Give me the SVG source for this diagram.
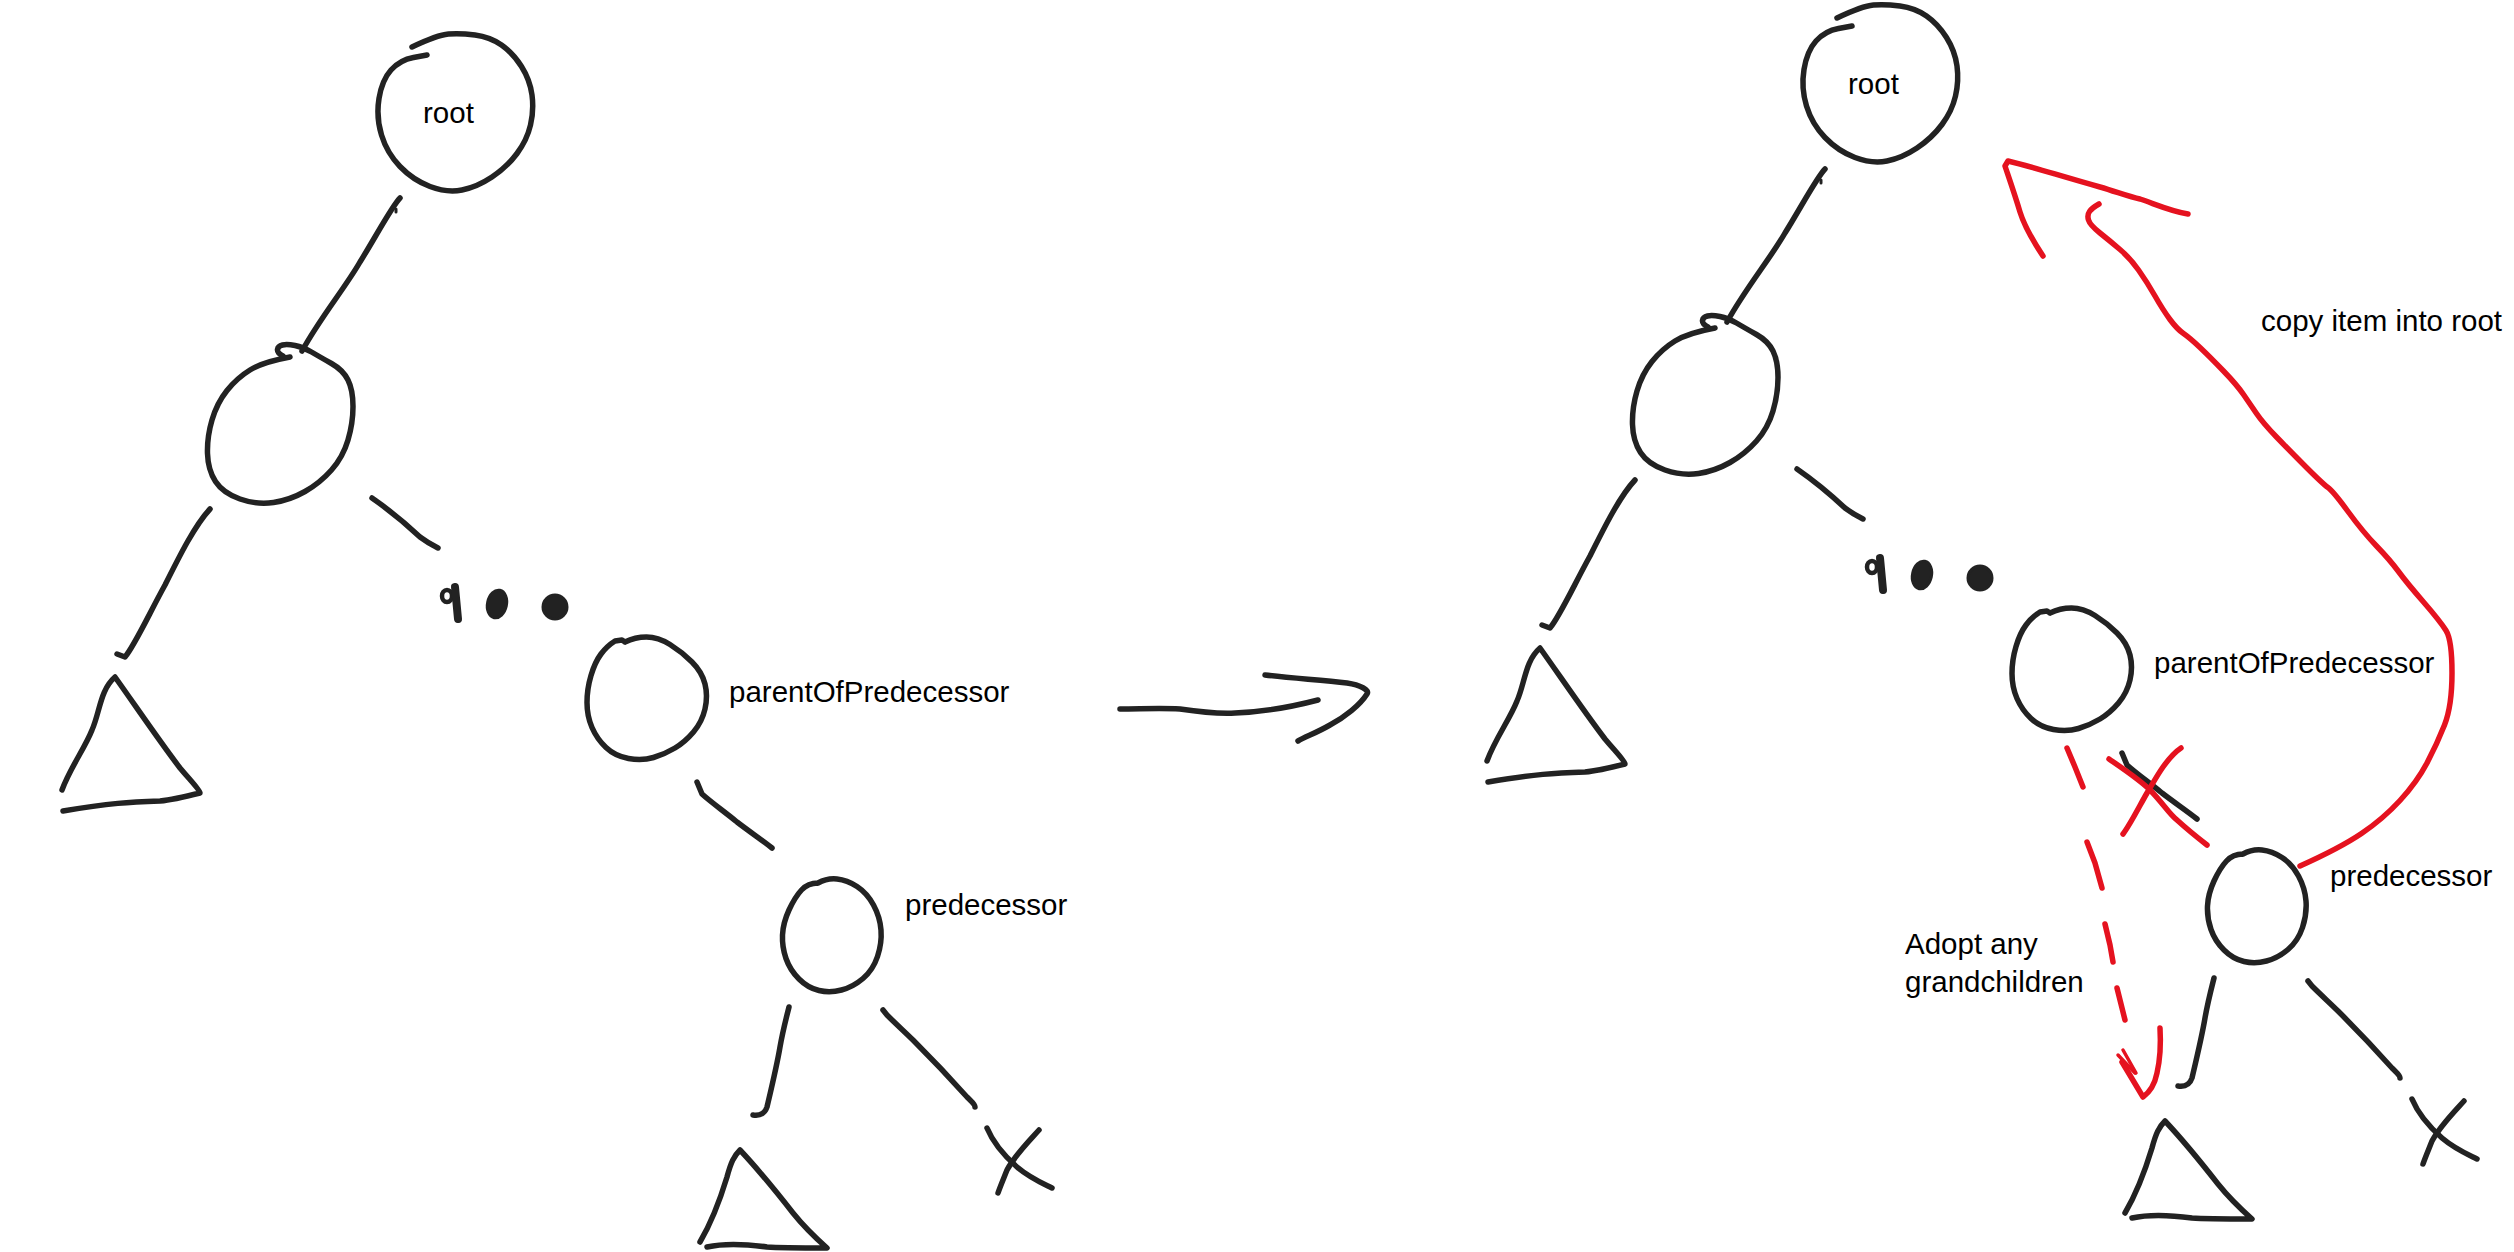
<svg xmlns="http://www.w3.org/2000/svg" width="2514" height="1252" viewBox="0 0 2514 1252">
<style>
.ink{fill:none;stroke:#222;stroke-width:5.5;stroke-linecap:round;stroke-linejoin:round}
.blob{fill:#222;stroke:#222;stroke-width:3}
.red{fill:none;stroke:#e5121f;stroke-width:5.5;stroke-linecap:round;stroke-linejoin:round}
.lbl{font-family:"Liberation Sans",Arial,sans-serif;font-size:29.5px;fill:#000}
</style>
<rect width="2514" height="1252" fill="#fff"/>

<!-- LEFT TREE -->
<g id="left-tree">
  <g id="L-root">
    <path class="ink" d="M412,47 Q437,35 448.5,34 Q460,33 475,35 Q490,37 501.5,45 Q513,53 521.5,66.5 Q530,80 532,95 Q534,110 530.5,125 Q527,140 517,153.5 Q507,167 492,177 Q477,187 462,190 Q447,193 430,186.5 Q413,180 400,166.5 Q387,153 381.5,135 Q376,117 379,98.5 Q382,80 391,70 Q400,60 413.5,57.5 L427,55"/>
    <text class="lbl" x="423" y="123">root</text>
  </g>
  <g id="L-child">
    <path class="ink" d="M290,357 Q263,362 250,370 Q237,378 227,390.5 Q217,403 212,420 Q207,437 207.5,453.5 Q208,470 215.5,481.5 Q223,493 240,499 Q257,505 273.5,502.5 Q290,500 305,491.5 Q320,483 331.5,470 Q343,457 348,440 Q353,423 353,406.5 Q353,390 348,380 Q343,370 331.5,363.5 Q320,357 311.5,352 Q303,347 295,345.5 Q287,344 282.5,345 Q278,346 277.5,349.5 Q277,353 283,356"/>
  </g>
  <g id="L-subtree">
    <path class="ink" d="M62,790 C70,768 85,748 92,730 C100,712 100,690 115,677 C135,705 160,742 180,768 C190,780 200,790 200,793 C180,798 170,800 160,801 C130,802 110,803 63,811"/>
  </g>
  <g id="L-dots">
    <ellipse class="ink" cx="447" cy="596" rx="5" ry="6" style="stroke-width:4.5"/>
    <path class="ink" d="M455,587 L458,619" style="stroke-width:8"/>
    <ellipse class="blob" cx="497" cy="604" rx="9.5" ry="14" transform="rotate(12 497 604)"/>
    <ellipse class="blob" cx="555" cy="607" rx="12" ry="12"/>
  </g>
  <g id="L-parent">
    <path class="ink" d="M625,642 Q635,637 646.5,637 Q658,637 670,644.5 Q682,652 692,662 Q702,672 705,684 Q708,696 705,709 Q702,722 693.5,732 Q685,742 675,748 Q665,754 653.5,757.5 Q642,761 628.5,758.5 Q615,756 606,747.5 Q597,739 592,727.5 Q587,716 587,702.5 Q587,689 591,675.5 Q595,662 601,654 Q607,646 615,641 L622,640 L625,642"/>
    <text class="lbl" x="729" y="702">parentOfPredecessor</text>
  </g>
  <g id="L-pred">
    <path class="ink" d="M818,883 Q808,883 801.5,890 Q795,897 789,910 Q783,923 782.5,935 Q782,947 786,958.5 Q790,970 799,979 Q808,988 819,990.5 Q830,993 841.5,990 Q853,987 863,978.5 Q873,970 877.5,956.5 Q882,943 881,930 Q880,917 873.5,905 Q867,893 857,886.5 Q847,880 837,879 Q827,878 818,883"/>
    <text class="lbl" x="905" y="915">predecessor</text>
  </g>
  <g id="L-pred-subtree">
    <path class="ink" d="M700,1242 C710,1225 720,1200 727,1177 C731,1162 734,1156 740,1150 C755,1166 775,1190 793,1213 C805,1228 818,1240 827,1248 C800,1248 780,1248 767,1247 C745,1244 725,1243 707,1247"/>
  </g>
  <g id="L-null">
    <path class="ink" d="M987,1128 C992,1140 1000,1152 1017,1167 C1030,1178 1042,1183 1052,1188"/>
    <path class="ink" d="M1039,1130 C1030,1140 1015,1155 1007,1170 C1003,1180 1000,1187 998,1193"/>
  </g>
  <g id="L-connectors">
    <path class="ink" d="M400,198 C392,206 375,238 360,262 C345,288 320,318 302,351"/>
    <path class="ink" d="M396,209 L396,212" style="stroke-width:3"/>
    <path class="ink" d="M210,509 C195,525 180,555 165,585 C150,612 135,645 125,657 L117,654"/>
    <path class="ink" d="M372,498 C385,507 405,523 420,537 C428,543 434,546 438,548"/>
    <path class="ink" d="M697,782 L702,794 C712,803 725,812 737,822 C750,832 762,840 772,848"/>
    <path class="ink" d="M789,1007 C787,1015 783,1030 780,1047 C777,1065 771,1090 767,1107 C765,1113 760,1116 753,1115"/>
    <path class="ink" d="M883,1010 L887,1015 C897,1025 905,1032 913,1040 C930,1057 950,1078 967,1097 C972,1102 975,1104 975,1107"/>
  </g>
</g>

<!-- TRANSFORM ARROW -->
<g id="transform-arrow">
  <path class="ink" d="M1120,709 C1140,709 1160,708 1180,709 C1200,712 1215,714 1235,713 C1265,712 1295,706 1318,700"/>
  <path class="ink" d="M1265,675 C1290,678 1320,680 1347,683 C1360,685 1370,690 1367,694 C1360,705 1345,717 1330,725 C1318,732 1305,737 1298,741"/>
</g>

<!-- RIGHT TREE -->
<g id="right-tree" transform="translate(1425,-29)">
  <g id="R-root">
    <path class="ink" d="M412,47 Q437,35 448.5,34 Q460,33 475,35 Q490,37 501.5,45 Q513,53 521.5,66.5 Q530,80 532,95 Q534,110 530.5,125 Q527,140 517,153.5 Q507,167 492,177 Q477,187 462,190 Q447,193 430,186.5 Q413,180 400,166.5 Q387,153 381.5,135 Q376,117 379,98.5 Q382,80 391,70 Q400,60 413.5,57.5 L427,55"/>
    <text class="lbl" x="423" y="123">root</text>
  </g>
  <g id="R-child">
    <path class="ink" d="M290,357 Q263,362 250,370 Q237,378 227,390.5 Q217,403 212,420 Q207,437 207.5,453.5 Q208,470 215.5,481.5 Q223,493 240,499 Q257,505 273.5,502.5 Q290,500 305,491.5 Q320,483 331.5,470 Q343,457 348,440 Q353,423 353,406.5 Q353,390 348,380 Q343,370 331.5,363.5 Q320,357 311.5,352 Q303,347 295,345.5 Q287,344 282.5,345 Q278,346 277.5,349.5 Q277,353 283,356"/>
  </g>
  <g id="R-subtree">
    <path class="ink" d="M62,790 C70,768 85,748 92,730 C100,712 100,690 115,677 C135,705 160,742 180,768 C190,780 200,790 200,793 C180,798 170,800 160,801 C130,802 110,803 63,811"/>
  </g>
  <g id="R-dots">
    <ellipse class="ink" cx="447" cy="596" rx="5" ry="6" style="stroke-width:4.5"/>
    <path class="ink" d="M455,587 L458,619" style="stroke-width:8"/>
    <ellipse class="blob" cx="497" cy="604" rx="9.5" ry="14" transform="rotate(12 497 604)"/>
    <ellipse class="blob" cx="555" cy="607" rx="12" ry="12"/>
  </g>
  <g id="R-parent">
    <path class="ink" d="M625,642 Q635,637 646.5,637 Q658,637 670,644.5 Q682,652 692,662 Q702,672 705,684 Q708,696 705,709 Q702,722 693.5,732 Q685,742 675,748 Q665,754 653.5,757.5 Q642,761 628.5,758.5 Q615,756 606,747.5 Q597,739 592,727.5 Q587,716 587,702.5 Q587,689 591,675.5 Q595,662 601,654 Q607,646 615,641 L622,640 L625,642"/>
    <text class="lbl" x="729" y="702">parentOfPredecessor</text>
  </g>
  <g id="R-pred">
    <path class="ink" d="M818,883 Q808,883 801.5,890 Q795,897 789,910 Q783,923 782.5,935 Q782,947 786,958.5 Q790,970 799,979 Q808,988 819,990.5 Q830,993 841.5,990 Q853,987 863,978.5 Q873,970 877.5,956.5 Q882,943 881,930 Q880,917 873.5,905 Q867,893 857,886.5 Q847,880 837,879 Q827,878 818,883"/>
    <text class="lbl" x="905" y="915">predecessor</text>
  </g>
  <g id="R-pred-subtree">
    <path class="ink" d="M700,1242 C710,1225 720,1200 727,1177 C731,1162 734,1156 740,1150 C755,1166 775,1190 793,1213 C805,1228 818,1240 827,1248 C800,1248 780,1248 767,1247 C745,1244 725,1243 707,1247"/>
  </g>
  <g id="R-null">
    <path class="ink" d="M987,1128 C992,1140 1000,1152 1017,1167 C1030,1178 1042,1183 1052,1188"/>
    <path class="ink" d="M1039,1130 C1030,1140 1015,1155 1007,1170 C1003,1180 1000,1187 998,1193"/>
  </g>
  <g id="R-connectors">
    <path class="ink" d="M400,198 C392,206 375,238 360,262 C345,288 320,318 302,351"/>
    <path class="ink" d="M396,209 L396,212" style="stroke-width:3"/>
    <path class="ink" d="M210,509 C195,525 180,555 165,585 C150,612 135,645 125,657 L117,654"/>
    <path class="ink" d="M372,498 C385,507 405,523 420,537 C428,543 434,546 438,548"/>
    <path class="ink" d="M697,782 L702,794 C712,803 725,812 737,822 C750,832 762,840 772,848"/>
    <path class="ink" d="M789,1007 C787,1015 783,1030 780,1047 C777,1065 771,1090 767,1107 C765,1113 760,1116 753,1115"/>
    <path class="ink" d="M883,1010 L887,1015 C897,1025 905,1032 913,1040 C930,1057 950,1078 967,1097 C972,1102 975,1104 975,1107"/>
  </g>
</g>

<!-- RED ANNOTATIONS -->
<g id="annotations">
  <g id="copy-arrow">
    <path class="red" d="M2300,866 Q2340,848 2361.5,833.5 Q2383,819 2400,800.5 Q2417,782 2427,763 Q2437,744 2444.5,725 Q2452,706 2452,673 Q2452,640 2446,630.5 Q2440,621 2423.5,602 Q2407,583 2398.5,571.5 Q2390,560 2376.5,546 Q2363,532 2348,511.5 Q2333,491 2328,487.5 Q2323,484 2306.5,467.5 Q2290,451 2276.5,437 Q2263,423 2256.5,413.5 Q2250,404 2243.5,394.5 Q2237,385 2223.5,371 Q2210,357 2200,347.5 Q2190,338 2183.5,333.5 Q2177,329 2170,319.5 Q2163,310 2155,296 Q2147,282 2138.5,270 Q2130,258 2120,249.5 Q2110,241 2100,233 Q2090,225 2088.5,220 Q2087,215 2089.5,211.5 Q2092,208 2099,204"/>
    <path class="red" d="M2043,256 C2035,244 2025,228 2020,212 C2015,195 2008,175 2005,166 L2008,161 C2030,166 2057,175 2100,187 C2117,192 2130,197 2140,199 C2155,204 2170,211 2188,214"/>
    <text class="lbl" x="2261" y="331">copy item into root</text>
  </g>
  <g id="cut-mark">
    <path class="red" d="M2109,759 C2125,770 2140,780 2150,790 C2162,802 2170,815 2177,820 C2188,830 2198,838 2207,845"/>
    <path class="red" d="M2181,748 C2175,752 2168,760 2163,767 C2156,777 2152,785 2147,793 C2140,805 2130,825 2123,834"/>
  </g>
  <g id="adopt-arrow">
    <path class="red" d="M2067,748 L2075,767 L2083,787"/>
    <path class="red" d="M2087,842 L2095,863 L2102,888"/>
    <path class="red" d="M2105,924 L2110,945 L2113,962"/>
    <path class="red" d="M2117,988 L2125,1020"/>
    <path class="red" d="M2122,1062 L2143,1097 C2150,1092 2155,1083 2157,1073 C2160,1060 2161,1045 2160,1028"/>
    <path class="red" d="M2118,1055 L2135,1073" style="stroke-width:3.5"/>
    <path class="red" d="M2123,1050 L2136,1073" style="stroke-width:3.5"/>
    <text class="lbl" x="1905" y="954">Adopt any</text>
    <text class="lbl" x="1905" y="992">grandchildren</text>
  </g>
</g>
</svg>
